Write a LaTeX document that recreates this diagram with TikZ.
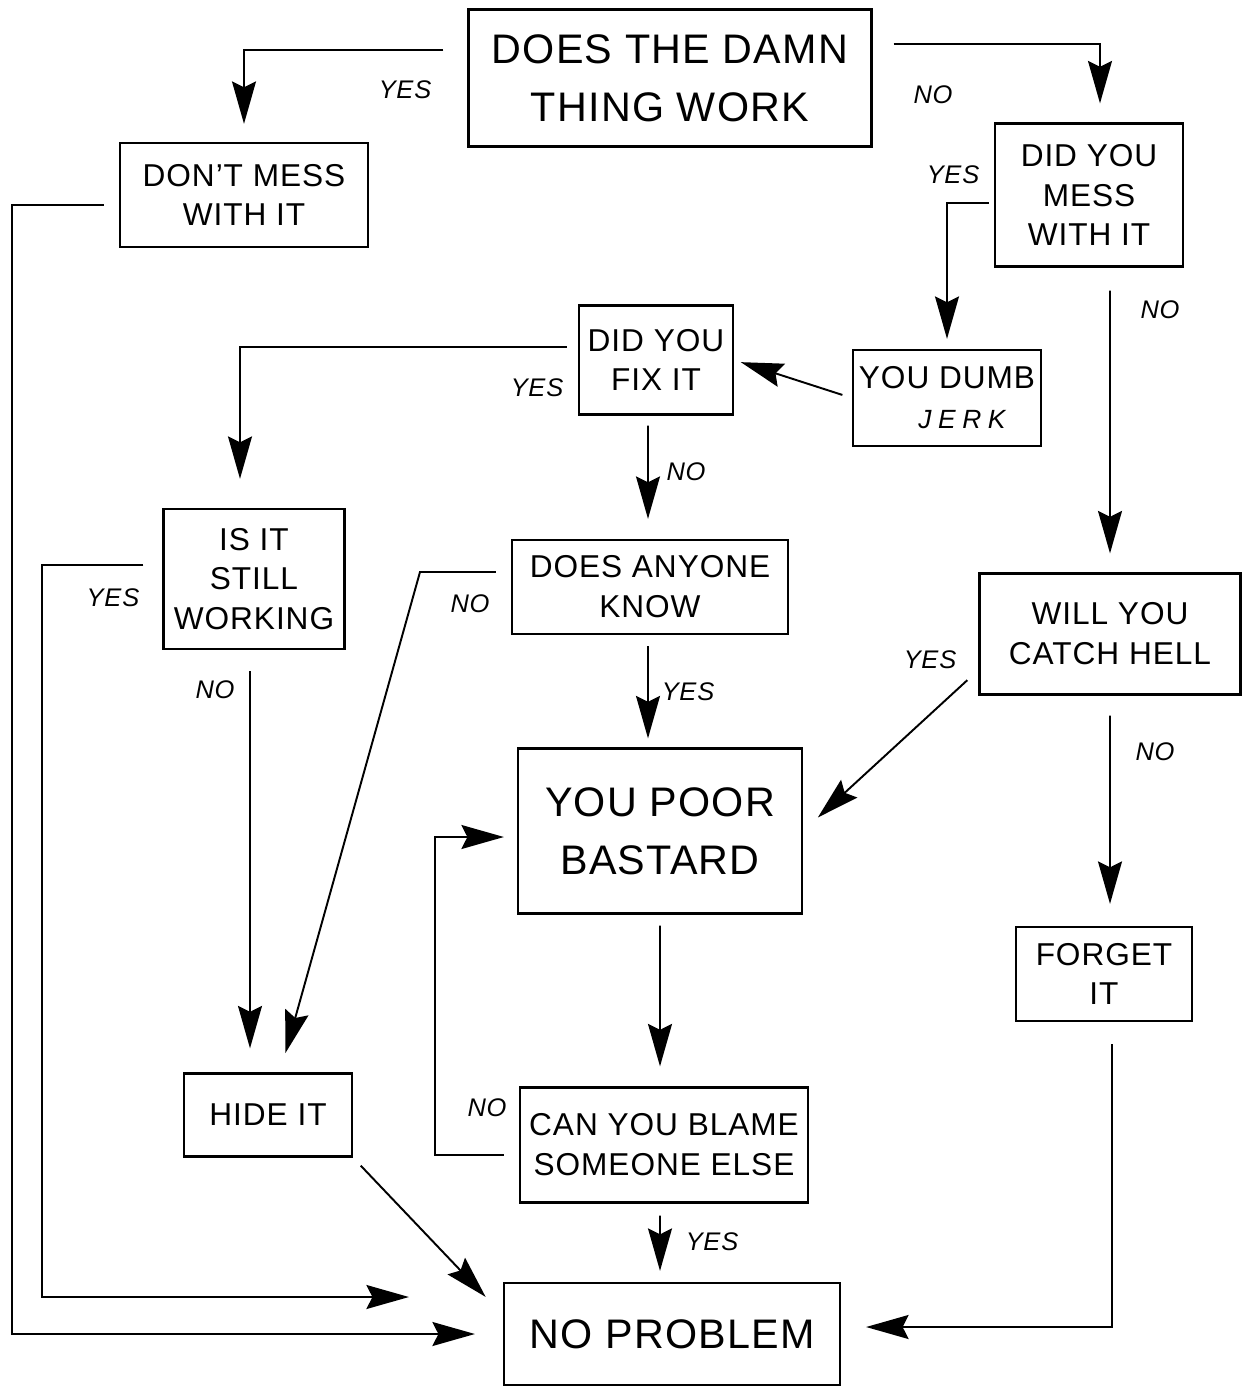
\documentclass[tikz,border=0pt]{standalone}
\usepackage{fontspec}
\setmainfont{Liberation Sans}[LetterSpace=3]
\usetikzlibrary{arrows.meta,positioning,calc}

\begin{document}
\begin{tikzpicture}[x=0.02cm,y=-0.02cm,
        b/.style={draw,line width=1.3pt,align=center,inner sep=0pt,font=\fontsize{18}{22.7}\selectfont},
        bb/.style={b,font=\fontsize{23.5}{33}\selectfont},
        a/.style={-{Stealth[length=0.85cm,width=0.48cm,inset=0.12cm]},line width=1.1pt},
        l/.style={font=\itshape\fontsize{14.5}{14.5}\selectfont}]
        \useasboundingbox (0,0) rectangle (1243,1389);
        \node[bb,minimum width=8.06cm,minimum height=2.74cm] (work) at (670,78) {DOES THE DAMN\\THING WORK};
        \node[b,minimum width=4.96cm,minimum height=2.08cm] (dont) at (244,195) {DON'T MESS\\WITH IT};
        \node[b,minimum width=3.76cm,minimum height=2.86cm] (mess) at (1089,195) {DID YOU\\MESS\\WITH IT};
        \node[b,minimum width=3.08cm,minimum height=2.18cm] (fix) at (656,360) {DID YOU\\FIX IT};
        \node[b,minimum width=3.76cm,minimum height=1.92cm] (jerk) at (947,398) {YOU DUMB\\\hspace*{0.6cm}{\itshape\fontsize{15}{15}\selectfont\addfontfeature{LetterSpace=25}JERK}};
        \node[b,minimum width=3.62cm,minimum height=2.8cm] (still) at (254,579) {IS IT\\STILL\\WORKING};
        \node[b,minimum width=5.52cm,minimum height=1.88cm] (know) at (650,587) {DOES ANYONE\\KNOW};
        \node[b,minimum width=5.22cm,minimum height=2.42cm] (hell) at (1110,634) {WILL YOU\\CATCH HELL};
        \node[bb,minimum width=5.68cm,minimum height=3.3cm] (poor) at (660,831) {YOU POOR\\BASTARD};
        \node[b,minimum width=3.52cm,minimum height=1.88cm] (forget) at (1104,974) {FORGET\\IT};
        \node[b,minimum width=3.36cm,minimum height=1.66cm] (hide) at (268,1115) {HIDE IT};
        \node[b,minimum width=5.76cm,minimum height=2.3cm] (blame) at (664,1145) {CAN YOU BLAME\\SOMEONE ELSE};
        \node[bb,minimum width=6.72cm,minimum height=2.04cm] (noprob) at (672,1334) {NO PROBLEM};
        % bends of the long runs
        \coordinate (c1) at (12,1334);
        \coordinate (c2) at (42,1297);
        \coordinate (c3) at (420,572);
        \coordinate (c4) at (435,837);
        \draw[a,shorten <=0.48cm,shorten >=0.36cm] ([yshift=0.56cm]work.west) -| (dont.north);
        \draw[a,shorten <=0.42cm,shorten >=0.38cm] ([yshift=0.68cm]work.east) -| ([xshift=0.22cm]mess.north);
        \draw[a,shorten <=0.3cm,shorten >=0.56cm] ([yshift=-0.2cm]dont.west) -| (c1) -- (noprob.west);
        \draw[a,shorten <=0.1cm,shorten >=0.2cm] ([yshift=-0.16cm]mess.west) -| (jerk.north);
        \draw[a,shorten <=0.46cm,shorten >=0.38cm] ([xshift=0.42cm]mess.south) -- (hell.north);
        \draw[a,shorten <=0.2cm,shorten >=0.14cm] (jerk.west) -- (fix.east);
        \draw[a,shorten <=0.22cm,shorten >=0.58cm] ([yshift=0.26cm]fix.west) -| ([xshift=-0.28cm]still.north);
        \draw[a,shorten <=0.2cm,shorten >=0.4cm] ([xshift=-0.16cm]fix.south) -- ([xshift=-0.04cm]know.north);
        \draw[a,shorten <=0.38cm,shorten >=1.88cm] ([yshift=0.28cm]still.west) -| (c2) -- (noprob.west |- c2);
        \draw[a,shorten <=0.42cm,shorten >=0.48cm] ([xshift=-0.08cm]still.south) -- ([xshift=-0.36cm]hide.north);
        \draw[a,shorten <=0.3cm,shorten >=0.4cm] ([yshift=0.3cm]know.west) -- (c3) -- ([xshift=0.24cm]hide.north);
        \draw[a,shorten <=0.22cm,shorten >=0.18cm] ([xshift=-0.04cm]know.south) -- ([xshift=-0.24cm]poor.north);
        \draw[a,shorten <=0.3cm,shorten >=0.4cm] ([yshift=-0.72cm]hell.west) -- (poor.east);
        \draw[a,shorten <=0.4cm,shorten >=0.44cm] (hell.south) -- ([xshift=0.12cm]forget.north);
        \draw[a,shorten <=0.22cm,shorten >=0.4cm] (poor.south) -- ([xshift=-0.08cm]blame.north);
        \draw[a,shorten <=0.3cm,shorten >=0.26cm] ([yshift=-0.2cm]blame.west) -| (c4) -- (poor.west |- c4);
        \draw[a,shorten <=0.24cm,shorten >=0.22cm] ([xshift=-0.08cm]blame.south) -- ([xshift=-0.24cm]noprob.north);
        \draw[a,shorten <=0.22cm,shorten >=0.5cm] (hide.south east) -- ([yshift=0.38cm]noprob.west);
        \draw[a,shorten <=0.44cm,shorten >=0.5cm] ([xshift=0.16cm]forget.south) |- ([yshift=0.14cm]noprob.east);
        % answers
        \node[l] (yworks) at (405,90) {YES};
        \node[l] (nworks) at (933,95) {NO};
        \node[l] (ymess) at (953,175) {YES};
        \node[l] (nmess) at (1160,310) {NO};
        \node[l] (yfix) at (537,388) {YES};
        \node[l] (nfix) at (686,472) {NO};
        \node[l] (ystill) at (113,598) {YES};
        \node[l] (nstill) at (215,690) {NO};
        \node[l] (nknow) at (470,604) {NO};
        \node[l] (yknow) at (688,692) {YES};
        \node[l] (yhell) at (930,660) {YES};
        \node[l] (nhell) at (1155,752) {NO};
        \node[l] (nblame) at (487,1108) {NO};
        \node[l] (yblame) at (712,1242) {YES};
      \end{tikzpicture}
\end{document}
